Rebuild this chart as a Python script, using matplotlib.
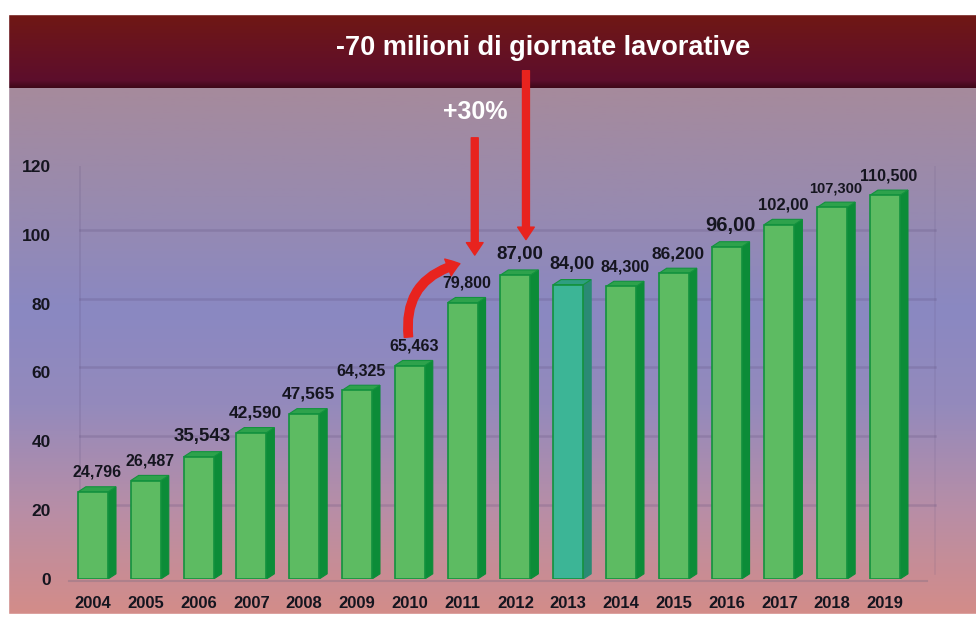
import numpy as np
import matplotlib
matplotlib.use("Agg")
import matplotlib.pyplot as plt
from matplotlib.colors import LinearSegmentedColormap
from matplotlib.patches import Polygon, Rectangle, FancyArrowPatch, ArrowStyle

# data
years = ["2004", "2005", "2006", "2007", "2008", "2009", "2010", "2011",
         "2012", "2013", "2014", "2015", "2016", "2017", "2018", "2019"]
heights = [25.3, 28.6, 35.5, 42.5, 48.0, 54.8, 62.0, 80.3,
           88.3, 85.5, 85.0, 88.8, 96.5, 103.0, 108.0, 111.5]
labels = ["24,796", "26,487", "35,543", "42,590", "47,565", "64,325", "65,463", "79,800",
          "87,00", "84,00", "84,300", "86,200", "96,00", "102,00", "107,300", "110,500"]
yticks = [0, 20, 40, 60, 80, 100, 120]

title_text = "-70 milioni di giornate lavorative"
jump_text = "+30%"

label_sizes = [11.5, 11.5, 13.5, 12.5, 12.5, 11.5, 11.5, 11.5, 13.5, 13, 11.5, 12.5, 14.5, 12, 10.5, 11.5]
plt.rcParams['font.family'] = ['Liberation Sans', 'DejaVu Sans']

W, H = 976, 617
fig = plt.figure(figsize=(W / 100, H / 100), dpi=100)

# background
bg = fig.add_axes([0, 0, 1, 1], zorder=-2)
bg.set_xlim(0, W)
bg.set_ylim(H, 0)
bg.axis('off')
cmap = LinearSegmentedColormap.from_list('bg', [
    (0.0, '#a68a9c'), (0.25, '#968ab2'), (0.42, '#8a88c2'),
    (0.6, '#948abc'), (0.8, '#b88ea6'), (1.0, '#d48c88')])
grad = np.linspace(0, 1, 256).reshape(-1, 1)
bg.imshow(grad, cmap=cmap, aspect='auto', extent=(0, W, H, 88))
banner = LinearSegmentedColormap.from_list('ban', [
    (0.0, '#701814'), (0.5, '#661222'), (0.9, '#5c0e2c'), (1.0, '#3e0818')])
bg.imshow(grad, cmap=banner, aspect='auto', extent=(0, W, 88, 14))
bg.add_patch(Rectangle((0, 0), W, 14, color='white'))
bg.add_patch(Rectangle((0, 0), 8, H, color='white'))
bg.add_patch(Rectangle((0, 614), W, 3, color='white'))

fig.text(543 / W, 1 - 48 / H, title_text, color='white', fontsize=19.5,
         fontweight='bold', ha='center', va='center')
fig.text(475 / W, 1 - 112 / H, jump_text, color='white', fontsize=18,
         fontweight='bold', ha='center', va='center')

# main axes
x0, x1 = 62, 940
yb, yt = 579, 166
ax = fig.add_axes([x0 / W, (H - yb) / H, (x1 - x0) / W, (yb - yt) / H])
ax.set_facecolor('none')
step = 52.8
ax.set_xlim(-(93 - x0) / step, 15 + (x1 - 885) / step)
ax.set_ylim(0, 120)
for s in ax.spines.values():
    s.set_visible(False)

x = np.arange(len(years))
w = 0.57
dx, dy = 0.15, 1.5

# back wall grid
for t in yticks[1:]:
    ax.plot([-0.25, 15.95], [t + dy, t + dy], color='#5a4a78', alpha=0.22, lw=1.8, zorder=0)
ax.plot([-0.25, -0.25], [dy, 120 + dy], color='#5a4a78', alpha=0.18, lw=1.2, zorder=0)
ax.plot([15.95, 15.95], [dy, 120 + dy], color='#5a4a78', alpha=0.12, lw=1.2, zorder=0)
ax.plot([-0.45, 15.8], [-0.6, -0.6], color='#7a6a80', alpha=0.35, lw=1.5, zorder=0, clip_on=False)

front = ['#5dbb62'] * len(years)
side = ['#0c8c38'] * len(years)
top = ['#2ea24c'] * len(years)
front[9], side[9], top[9] = '#3cb596', '#2a8a74', '#2e9e80'

ax.bar(x, heights, width=w, color=front, edgecolor='#13923e', linewidth=1.2, zorder=3)
for i, h in enumerate(heights):
    xr = x[i] + w / 2
    xl = x[i] - w / 2
    ax.add_patch(Polygon([(xr, 0), (xr + dx, dy), (xr + dx, h + dy), (xr, h)],
                         closed=True, facecolor=side[i], edgecolor=side[i], lw=0.8, zorder=2))
    ax.add_patch(Polygon([(xl, h), (xr, h), (xr + dx, h + dy), (xl + dx, h + dy)],
                         closed=True, facecolor=top[i], edgecolor='#13923e', lw=0.8, zorder=2))
    ax.annotate(labels[i], (x[i] + dx / 2, h + dy), xytext=(0, 5), textcoords='offset points',
                ha='center', va='bottom', fontsize=label_sizes[i], fontweight='bold',
                color='#15151f', zorder=5)

ax.set_xticks(x)
ax.set_xticklabels(years, fontsize=12, fontweight='bold', color='#15151f')
ax.set_yticks(yticks)
ax.set_yticklabels([str(t) for t in yticks], fontsize=12.5, fontweight='bold', color='#15151f')
ax.tick_params(axis='x', length=0, pad=12)
ax.tick_params(axis='y', length=0, pad=8)

# red arrows
red = '#e8231e'
straight = ArrowStyle('simple', head_length=0.9, head_width=1.2, tail_width=0.5)
i11, i12, i10 = years.index("2011"), years.index("2012"), years.index("2010")
ax.add_patch(FancyArrowPatch((i11 + 0.23, 129), (i11 + 0.23, heights[i11] + 13),
                             arrowstyle=straight, mutation_scale=10, color=red,
                             zorder=6, clip_on=False))
ax.add_patch(FancyArrowPatch((i12 + 0.2, 148.5), (i12 + 0.2, heights[i12] + 9.5),
                             arrowstyle=straight, mutation_scale=10, color=red,
                             zorder=6, clip_on=False))
curved = ArrowStyle('simple', head_length=0.9, head_width=1.3, tail_width=0.6)
ax.add_patch(FancyArrowPatch((i10 - 0.02, heights[i10] + 7.5), (i11, heights[i11] + 11.5),
                             connectionstyle='arc3,rad=-0.45', arrowstyle=curved,
                             mutation_scale=10, color=red, zorder=6, clip_on=False))

fig.savefig('out.png', dpi=100)
